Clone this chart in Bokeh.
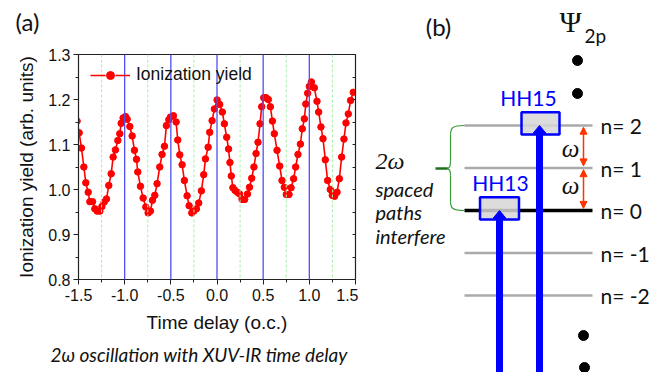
from bokeh.plotting import figure
from bokeh.models import (Range1d, FixedTicker, Span, Title, Legend, LegendItem,
                          LinearAxis, PrintfTickFormatter, Arrow, NormalHead)
from bokeh.layouts import row, column
from bokeh.core.properties import value
from bokeh.embed import file_html
from bokeh.resources import INLINE

# ---------------- data: panel (a) ----------------
delay = [-1.515, -1.493, -1.468, -1.442, -1.421, -1.395, -1.377, -1.348, -1.323, -1.298,
         -1.269, -1.247, -1.222, -1.197, -1.172, -1.146, -1.125, -1.100, -1.074, -1.053,
         -1.038, -1.017, -0.991, -0.973, -0.944, -0.919, -0.894, -0.872, -0.858, -0.829,
         -0.800, -0.771, -0.746, -0.721, -0.699, -0.674, -0.649, -0.620, -0.595, -0.569,
         -0.548, -0.522, -0.504, -0.472, -0.443, -0.425, -0.403, -0.378, -0.353, -0.324,
         -0.302, -0.273, -0.252, -0.223, -0.198, -0.169, -0.144, -0.125, -0.096, -0.079,
         -0.053, -0.028, 0.001, 0.029, 0.058, 0.080, 0.105, 0.125, 0.140, 0.155,
         0.172, 0.195, 0.220, 0.245, 0.271, 0.300, 0.330, 0.352, 0.376, 0.400,
         0.423, 0.444, 0.466, 0.484, 0.506, 0.531, 0.556, 0.578, 0.600, 0.621,
         0.650, 0.679, 0.704, 0.729, 0.751, 0.780, 0.802, 0.830, 0.852, 0.877,
         0.903, 0.924, 0.946, 0.962, 0.982, 1.000, 1.022, 1.054, 1.083, 1.101,
         1.126, 1.148, 1.173, 1.198, 1.227, 1.249, 1.274, 1.300, 1.325, 1.350,
         1.375, 1.397, 1.422, 1.447, 1.476]
ion_yield = [1.152, 1.126, 1.092, 1.050, 1.015, 0.994, 0.973, 0.973, 0.957, 0.952,
             0.952, 0.962, 0.972, 0.979, 1.009, 1.035, 1.072, 1.088, 1.109, 1.124,
             1.147, 1.159, 1.162, 1.156, 1.140, 1.119, 1.087, 1.067, 1.039, 1.007,
             0.981, 0.961, 0.948, 0.952, 0.976, 0.987, 1.013, 1.050, 1.078, 1.096,
             1.142, 1.155, 1.161, 1.164, 1.150, 1.110, 1.077, 1.055, 1.020, 0.986,
             0.964, 0.948, 0.952, 0.957, 0.970, 0.997, 1.033, 1.068, 1.094, 1.127,
             1.153, 1.179, 1.199, 1.189, 1.172, 1.146, 1.116, 1.090, 1.060, 1.030,
             1.004, 0.998, 0.994, 0.990, 0.978, 0.978, 0.990, 1.005, 1.025, 1.050,
             1.080, 1.105, 1.146, 1.184, 1.204, 1.204, 1.200, 1.184, 1.152, 1.124,
             1.087, 1.052, 1.020, 1.005, 0.989, 0.989, 1.004, 1.024, 1.050, 1.078,
             1.101, 1.135, 1.157, 1.190, 1.214, 1.229, 1.239, 1.226, 1.196, 1.172,
             1.139, 1.113, 1.066, 1.020, 1.000, 0.987, 0.985, 0.994, 1.024, 1.072,
             1.112, 1.148, 1.168, 1.198, 1.216]
solid_marks = [-1.0, -0.5, 0.0, 0.5, 1.0]
dashed_marks = [-1.25, -0.75, -0.25, 0.25, 0.75, 1.25]
x_ticks = [-1.5, -1.0, -0.5, 0.0, 0.5, 1.0, 1.5]
x_minor = [-1.25, -0.75, -0.25, 0.25, 0.75, 1.25]
y_ticks = [0.8, 0.9, 1.0, 1.1, 1.2, 1.3]
y_minor = [0.85, 0.95, 1.05, 1.15, 1.25]

# ---------------- data: panel (b) ----------------
levels = [2, 1, 0, -1, -2]
level_labels = ["n= 2", "n= 1", "n= 0", "n= -1", "n= -2"]
harmonics = ["HH13", "HH15"]
harmonic_levels = [0, 2]

SANS = "Liberation Sans"
CAL = "Lato"
SERIF = "Liberation Serif"
TOP = 42  # height of the strip carrying the "(a)" tag

# ---------------- panel tag strip ----------------
p0 = figure(width=358, height=TOP, x_range=Range1d(0, 358), y_range=Range1d(TOP, 0),
            x_axis_location=None, y_axis_location=None, toolbar_location=None,
            output_backend="svg", min_border=0, outline_line_color=None)
p0.frame_align = False
p0.grid.visible = False
p0.text(x=27, y=21, text=["(a)"], text_font=value(CAL), text_font_size="24px",
        text_align="center", text_baseline="middle", text_color="#111111")

# ---------------- panel (a) ----------------
p1 = figure(width=358, height=372 - TOP, x_range=Range1d(-1.5, 1.5),
            y_range=Range1d(0.8, 1.3), output_backend="svg", toolbar_location=None,
            min_border_left=78, min_border_right=3, min_border_top=54 - TOP,
            min_border_bottom=93)
p1.frame_align = False
p1.grid.visible = False
p1.outline_line_color = "#222222"
p1.outline_line_width = 1.2
p1.background_fill_color = "white"
p1.border_fill_color = "white"

for v in dashed_marks:
    p1.add_layout(Span(location=v, dimension="height", line_color="#a8eea8",
                       line_width=1, line_dash="3 2"))
for v in solid_marks:
    p1.add_layout(Span(location=v, dimension="height", line_color="#5050f5",
                       line_width=1.3))

p1.line(delay, ion_yield, line_color="#ff0000", line_width=1.6)
p1.scatter(delay, ion_yield, size=6.5, fill_color="#ff0000", line_color="#ff0000")

# legend key drawn like the original ("— • —"); its renderers sit outside the view
key_line = p1.line(x=[-9, -8], y=[0, 0], line_color="#ff0000", line_width=1.6,
                   line_dash="15 10")
key_dot = p1.scatter(x=[-9], y=[0], size=6.5, fill_color="#ff0000", line_color="#ff0000")
legend = Legend(items=[LegendItem(label="Ionization yield", renderers=[key_line, key_dot])],
                location=(12, 194), padding=0, margin=0, border_line_color=None,
                background_fill_alpha=0, label_text_font=SANS,
                label_text_font_size="17.5px", label_text_color="#111111",
                glyph_width=40, glyph_height=20, label_standoff=6, label_height=20)
p1.add_layout(legend)

p1.xaxis.ticker = FixedTicker(ticks=x_ticks, minor_ticks=x_minor)
p1.yaxis.ticker = FixedTicker(ticks=y_ticks, minor_ticks=y_minor)
p1.xaxis.formatter = PrintfTickFormatter(format="%.1f")
p1.yaxis.formatter = PrintfTickFormatter(format="%.1f")
for ax in (p1.xaxis[0], p1.yaxis[0]):
    ax.major_tick_out = 5
    ax.major_tick_in = 0
    ax.minor_tick_out = 3
    ax.minor_tick_in = 0
    ax.axis_line_color = "#222222"
    ax.major_tick_line_color = "#222222"
    ax.minor_tick_line_color = "#222222"
    ax.major_label_text_font = SANS
    ax.major_label_text_font_size = "16px"
    ax.major_label_text_color = "#111111"
    ax.axis_label_text_font = SANS
    ax.axis_label_text_font_size = "19px"
    ax.axis_label_text_font_style = "normal"
    ax.axis_label_text_color = "#111111"
p1.xaxis.axis_label = "Time delay (o.c.)"
p1.yaxis.axis_label = "Ionization yield (arb. units)"
p1.xaxis.major_label_standoff = 4
p1.xaxis.axis_label_standoff = 8
p1.yaxis.major_label_standoff = 3
p1.yaxis.axis_label_standoff = 8

# right frame edge: small inward ticks only
rax = LinearAxis(ticker=FixedTicker(ticks=[], minor_ticks=y_ticks + y_minor),
                 major_tick_in=0, major_tick_out=0, minor_tick_in=3, minor_tick_out=0,
                 major_label_standoff=0, axis_line_color="#222222",
                 minor_tick_line_color="#222222")
p1.add_layout(rax, "right")

# caption under the axis
p1.add_layout(Title(text="2ω oscillation with XUV-IR time delay", align="left",
                    offset=-28, standoff=10, text_font=CAL, text_font_size="19px",
                    text_font_style="italic", text_color="#111111"), "below")

# ---------------- panel (b) ----------------
PX = 42.5   # pixels per level unit
Y0 = 210.0  # pixel row of level 0


def lv(py):
    return (Y0 - py) / PX


p2 = figure(width=307, height=372, x_range=Range1d(358, 665),
            y_range=Range1d(lv(372), lv(0)), x_axis_location=None, y_axis_location=None,
            toolbar_location=None, output_backend="svg", min_border=0,
            outline_line_color=None)
p2.frame_align = False
p2.grid.visible = False
p2.background_fill_color = "white"
p2.border_fill_color = "white"

lcol = ["black" if n == 0 else "#aaaaaa" for n in levels]
lwid = [3.5 if n == 0 else 2.5 for n in levels]
p2.segment(x0=464, x1=592, y0=levels, y1=levels, line_color=lcol, line_width=lwid)
p2.text(x=600, y=levels, text=level_labels, text_font=value(CAL), text_font_size="21px",
        text_align="left", text_baseline="middle", text_color="#111111")

# harmonic boxes
hx = [499, 540]
p2.rect(x=hx, y=[h + 0.05 for h in harmonic_levels], width=[39, 38], height=0.52,
        fill_color="#d6d6d6", fill_alpha=0.85, line_color="#0000ff", line_width=2.5)
p2.text(x=[500, 528], y=[h + 0.66 for h in harmonic_levels], text=harmonics,
        text_font=value(CAL), text_font_size="21px", text_align="center",
        text_baseline="middle", text_color="#0000ff")

# photon arrows
ax_x = [499, 539]
head = 7 / PX
p2.segment(x0=ax_x, x1=ax_x, y0=lv(390), y1=[h - head for h in harmonic_levels],
           line_color="#0000ff", line_width=7)
p2.patches(xs=[[x - 6.5, x + 6.5, x] for x in ax_x],
           ys=[[h - head - 0.02, h - head - 0.02, h] for h in harmonic_levels],
           fill_color="#0000ff", line_color="#0000ff")

# omega arrows
for top, bot in [(2, 1), (1, 0)]:
    p2.add_layout(Arrow(x_start=583, y_start=top - 0.04, x_end=583, y_end=bot + 0.05,
                        start=NormalHead(size=7, fill_color="#ff3300", line_color="#ff3300"),
                        end=NormalHead(size=7, fill_color="#ff3300", line_color="#ff3300"),
                        line_color="#ff3300", line_width=1.5))
p2.text(x=[570, 570], y=[1.45, 0.58], text=["ω", "ω"], text_font=value(SERIF),
        text_font_size="25px", text_font_style="italic", text_align="center",
        text_baseline="middle", text_color="#111111")

# brace
g = "#3a9a3a"
p2.bezier(x0=[464, 450, 446, 450], y0=[2, 1.15, 0.99, 0.22],
          x1=[450, 446, 450, 464], y1=[1.78, 0.99, 0.83, 0],
          cx0=[452, 450, 448, 450], cy0=[2, 1.03, 0.99, 0.05],
          cx1=[450, 448, 450, 452], cy1=[1.95, 0.99, 0.95, 0],
          line_color=g, line_width=1.2)
p2.segment(x0=[450, 450], x1=[450, 450], y0=[1.78, 0.83], y1=[1.15, 0.22],
           line_color=g, line_width=1.2)
p2.segment(x0=435, x1=447, y0=0.99, y1=0.99, line_color="#1f6f1f", line_width=2.5)

p2.text(x=375, y=lv(160), text=["2ω"], text_font=value(SERIF), text_font_size="24px",
        text_font_style="italic", text_align="left", text_baseline="middle",
        text_color="#111111")
p2.text(x=375, y=[lv(188), lv(211), lv(235)], text=["spaced", "paths", "interfere"],
        text_font=value(CAL), text_font_size="20px", text_font_style="italic",
        text_align="left", text_baseline="middle", text_color="#111111")

# title and state label
p2.text(x=438, y=lv(26), text=["(b)"], text_font=value(CAL), text_font_size="24px",
        text_align="center", text_baseline="middle", text_color="#111111")
p2.text(x=570, y=lv(21), text=["Ψ"], text_font=value(SERIF), text_font_size="30px",
        text_align="center", text_baseline="middle", text_color="#111111")
p2.text(x=584, y=lv(35), text=["2p"], text_font=value(CAL), text_font_size="19px",
        text_align="left", text_baseline="middle", text_color="#111111")

# continuation dots
p2.scatter(x=[577, 577, 583, 584], y=[lv(60), lv(93), lv(335), lv(367)], size=10,
           fill_color="black", line_color="black")

layout = row(column(p0, p1, spacing=0), p2, spacing=0)
open("out.html", "w").write(file_html(layout, INLINE))
